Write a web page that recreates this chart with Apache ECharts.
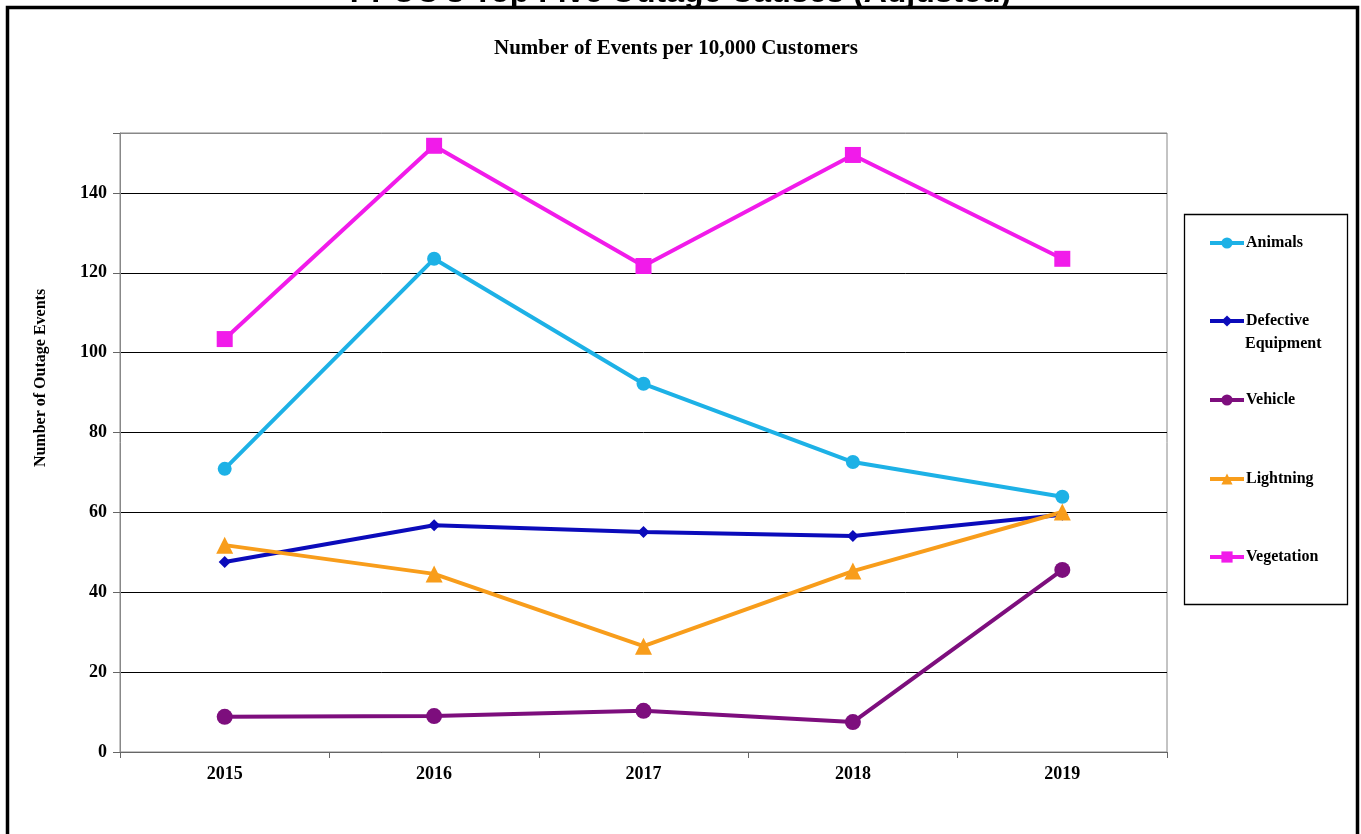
<!DOCTYPE html>
<html>
<head>
<meta charset="utf-8">
<script src="https://cdn.jsdelivr.net/npm/echarts@6/dist/echarts.min.js"></script>
<style>
  html, body { margin: 0; padding: 0; background: #fff; }
  #main { width: 1361px; height: 834px; }
</style>
</head>
<body>
<div id="main"></div>
<script>
const years = ['2015', '2016', '2017', '2018', '2019']
const animals = [70.9, 123.5, 92.2, 72.6, 63.9]
const defective = [47.6, 56.8, 55.1, 54.1, 59.4]
const vehicle = [8.8, 9.0, 10.3, 7.5, 45.6]
const lightning = [51.8, 44.6, 26.5, 45.3, 60.1]
const vegetation = [103.4, 151.8, 121.7, 149.5, 123.5]

const serif = '"Liberation Serif", "DejaVu Serif", serif'
const chart = echarts.init(document.getElementById('main'))

function lineSeries(name, data, color, symbol, size) {
  return {
    name: name,
    type: 'line',
    data: data,
    symbol: symbol,
    symbolSize: size,
    lineStyle: { color: color, width: 4 },
    itemStyle: { color: color },
    emphasis: { disabled: true }
  }
}

// one legend per item so the spacing matches the boxed legend
function legendItem(name, top) {
  return {
    data: [name],
    orient: 'vertical',
    left: 1208,
    top: top,
    itemWidth: 34,
    itemHeight: 14,
    itemGap: 0,
    padding: 0,
    lineStyle: { width: 4 },
    formatter: name === 'Defective Equipment' ? 'Defective' : '{name}',
    textStyle: { fontFamily: serif, fontWeight: 'bold', fontSize: 16, color: '#000', padding: [0, 0, 0, -3] }
  }
}

const option = {
  backgroundColor: '#fff',
  animation: false,
  grid: {
    left: 120,
    right: 1361 - 1167,
    top: 133,
    bottom: 834 - 752,
    show: true,
    borderColor: '#888',
    borderWidth: 1
  },
  legend: [
    legendItem('Animals', 235),
    legendItem('Defective Equipment', 313),
    legendItem('Vehicle', 392),
    legendItem('Lightning', 471),
    legendItem('Vegetation', 549)
  ],
  xAxis: {
    type: 'category',
    data: years,
    boundaryGap: true,
    axisLine: { lineStyle: { color: '#666', width: 1 } },
    axisTick: { show: true, length: 6, lineStyle: { color: '#666' } },
    axisLabel: { fontFamily: serif, fontWeight: 'bold', fontSize: 18, color: '#000', margin: 13 }
  },
  yAxis: {
    type: 'value',
    min: 0,
    max: 155,
    interval: 20,
    axisLine: { show: true, lineStyle: { color: '#888', width: 1 } },
    axisTick: { show: true, length: 7, lineStyle: { color: '#666' } },
    axisLabel: {
      fontFamily: serif, fontWeight: 'bold', fontSize: 18, color: '#000', margin: 13,
      formatter: v => (v % 20 === 0 ? String(v) : '')
    },
    splitLine: {
      show: true,
      lineStyle: { color: ['#000', '#000', '#000', '#000', '#000', '#000', '#000', '#000', '#888'], width: 1 }
    }
  },
  graphic: [
    {
      type: 'text', left: 'center', top: -23, z: 10,
      style: {
        text: "PPUC's Top Five Outage Causes (Adjusted)",
        font: 'bold 32px "Liberation Sans", Arial, sans-serif',
        fill: '#000'
      }
    },
    {
      type: 'rect', z: 20,
      shape: { x: 7.5, y: 7.5, width: 1350, height: 840 },
      style: { fill: 'none', stroke: '#000', lineWidth: 3.5 }
    },
    {
      type: 'text', x: 676, y: 49, z: 10,
      style: {
        text: 'Number of Events per 10,000 Customers',
        font: 'bold 21px ' + serif,
        fill: '#000', align: 'center', verticalAlign: 'middle'
      }
    },
    {
      type: 'text', x: 41, y: 378, rotation: Math.PI / 2, z: 10,
      style: {
        text: 'Number of Outage Events',
        font: 'bold 16px ' + serif,
        fill: '#000', align: 'center', verticalAlign: 'middle'
      }
    },
    {
      type: 'rect', z: 5,
      shape: { x: 1184.5, y: 214.5, width: 163, height: 390 },
      style: { fill: 'none', stroke: '#000', lineWidth: 1.3 }
    },
    {
      type: 'text', x: 1245, y: 344, z: 10,
      style: {
        text: 'Equipment',
        font: 'bold 16px ' + serif,
        fill: '#000', align: 'left', verticalAlign: 'middle'
      }
    }
  ],
  series: [
    lineSeries('Animals', animals, '#1DB1E6', 'circle', 14),
    lineSeries('Defective Equipment', defective, '#0B0BBA', 'diamond', 12),
    lineSeries('Vehicle', vehicle, '#7D0E7D', 'circle', 16),
    lineSeries('Lightning', lightning, '#F89D1B', 'triangle', 17),
    lineSeries('Vegetation', vegetation, '#F11BEA', 'rect', 16)
  ]
}
chart.setOption(option)
</script>
</body>
</html>
